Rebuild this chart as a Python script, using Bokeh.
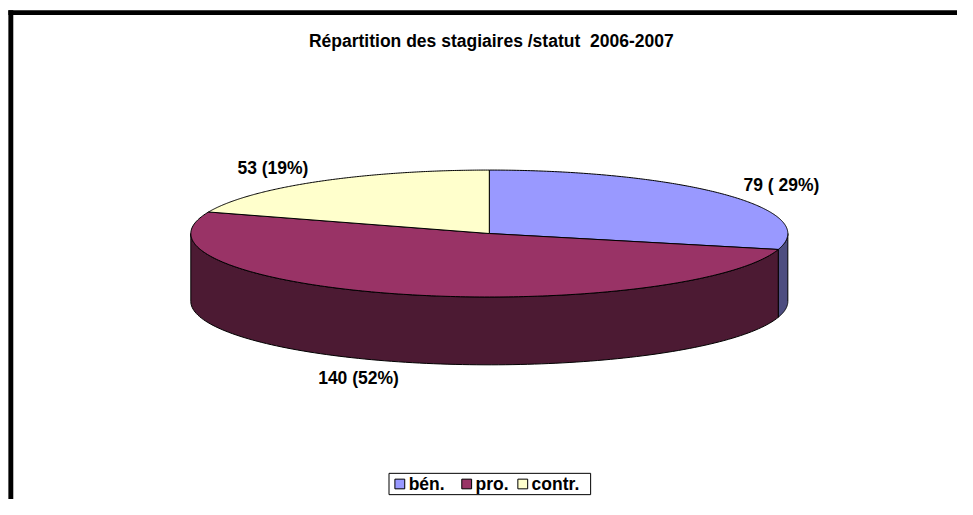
import numpy as np
from bokeh.plotting import figure
from bokeh.models import Range1d
from bokeh.core.properties import value
from bokeh.embed import file_html
from bokeh.resources import INLINE

# ---- data ----
categories = ["bén.", "pro.", "contr."]
counts = [79, 140, 53]
percents = [29, 52, 19]
label_texts = ["79 ( 29%)", "140 (52%)", "53 (19%)"]
top_colors = ["#9999FF", "#993366", "#FFFFCC"]
side_colors = ["#4D4D80", "#4C1A33", "#80806A"]
title_text = "Répartition des stagiaires /statut\u00a0 2006-2007"

# ---- layout (reference-image coordinates, 973 x 515 canvas) ----
W, H = 957, 499
RW, RH = 973, 515
CX, CY, RX, RY, DEPTH = 497, 240.5, 303.5, 65.5, 70
FONT = value("Liberation Sans")
FS = "17.5px"
label_pos = [(794, 190), (364, 390), (277, 173)]

p = figure(width=W, height=H, output_backend="svg", toolbar_location=None,
           x_range=Range1d(0, RW), y_range=Range1d(RH, 0),
           min_border=0, outline_line_color=None)
p.axis.visible = False
p.grid.visible = False
p.background_fill_color = "white"
p.border_fill_color = "white"

# frame
p.quad(left=[8, 8], right=[RW, 13], top=[10, 10], bottom=[15, RH],
       fill_color="black", line_color=None)

def pt(theta, dy=0.0):
    return CX + RX * np.sin(theta), CY - RY * np.cos(theta) + dy

total = float(sum(counts))
fracs = np.array(counts) / total
starts = np.concatenate([[0], np.cumsum(fracs)[:-1]]) * 2 * np.pi
ends = np.cumsum(fracs) * 2 * np.pi

# side faces (front half: theta in [pi/2, 3pi/2])
sx, sy, sc = [], [], []
for a, b, c in zip(starts, ends, side_colors):
    lo, hi = max(a, np.pi / 2), min(b, 3 * np.pi / 2)
    if hi <= lo:
        continue
    t = np.linspace(lo, hi, 120)
    x1, y1 = pt(t)
    x2, y2 = pt(t[::-1], DEPTH)
    sx.append(list(np.concatenate([x1, x2])))
    sy.append(list(np.concatenate([y1, y2])))
    sc.append(c)
p.patches(xs=sx, ys=sy, fill_color=sc, line_color="black", line_width=1)

# top faces
tx, ty = [], []
for a, b in zip(starts, ends):
    t = np.linspace(a, b, 200)
    x1, y1 = pt(t)
    tx.append([CX] + list(x1))
    ty.append([CY] + list(y1))
p.patches(xs=tx, ys=ty, fill_color=top_colors, line_color="black", line_width=1)

# labels
p.text(x=[q[0] for q in label_pos], y=[q[1] for q in label_pos], text=label_texts,
       text_font=FONT, text_font_style="bold", text_font_size=FS,
       text_align="center", text_baseline="middle", text_color="black")

# title
p.text(x=[499], y=[42], text=[title_text], text_font=FONT, text_font_style="bold",
       text_font_size=FS, text_align="center", text_baseline="middle")

# legend
LX0, LX1, LY0, LY1 = 395, 600, 488, 510
LY = (LY0 + LY1) / 2
p.quad(left=[LX0], right=[LX1], top=[LY0], bottom=[LY1],
       fill_color="white", line_color="black", line_width=1)
sq_x = [406, 474, 531]
p.rect(x=sq_x, y=[LY] * 3, width=10, height=10, fill_color=top_colors,
       line_color="black", line_width=1)
p.text(x=[s + 9 for s in sq_x], y=[LY + 0.5] * 3, text=categories, text_font=FONT,
       text_font_style="bold", text_font_size=FS, text_align="left",
       text_baseline="middle")

open("out.html", "w").write(file_html(p, INLINE))
